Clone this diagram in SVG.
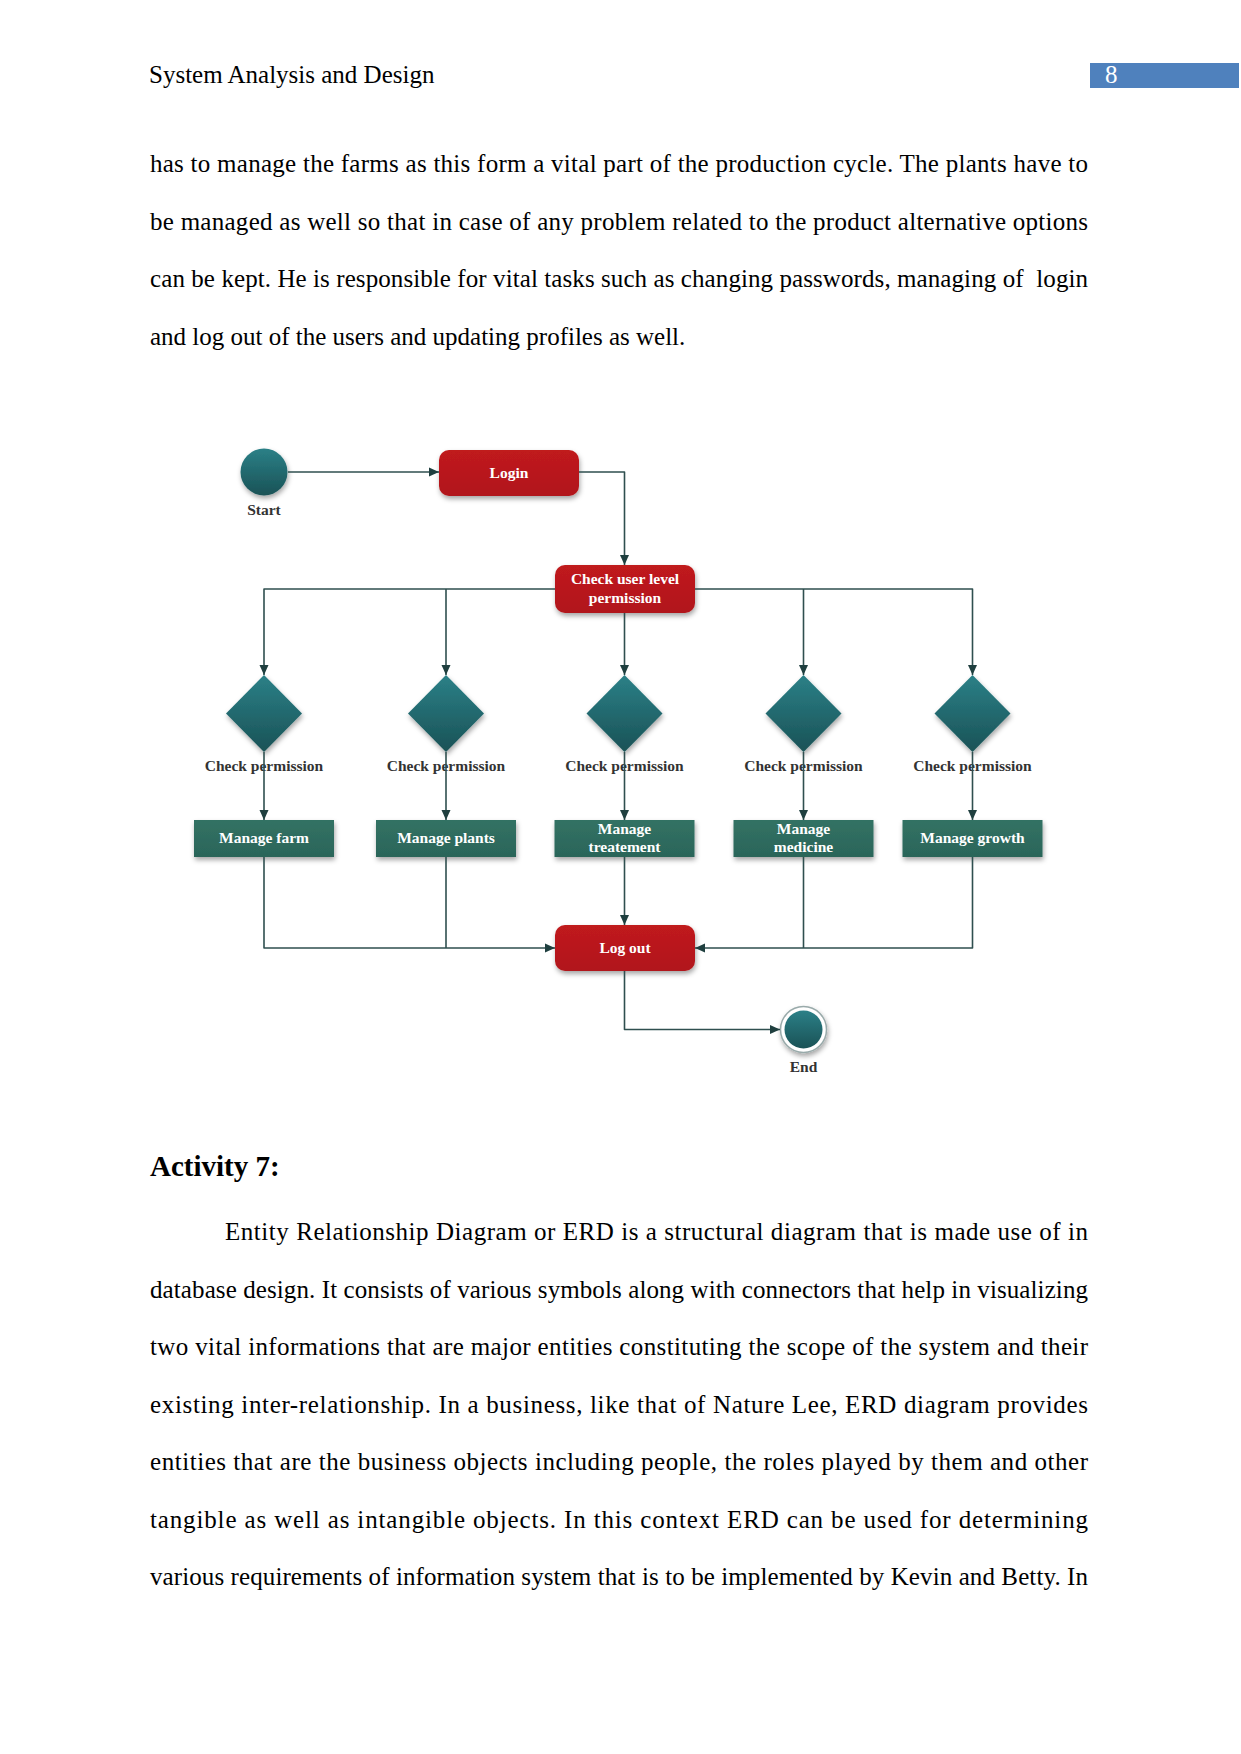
<svg xmlns="http://www.w3.org/2000/svg" width="1241" height="1754" viewBox="0 0 1241 1754">
<defs>
<style>
.body{font-family:"Liberation Serif","Times New Roman",serif;font-size:25px;fill:#000}
.lbl{font-family:"Liberation Serif","Times New Roman",serif;font-size:15.5px;font-weight:bold;fill:#333;text-anchor:middle}
.wt{font-family:"Liberation Serif","Times New Roman",serif;font-size:15.5px;font-weight:bold;fill:#fff;text-anchor:middle}
.conn{fill:none;stroke:#2f4f4f;stroke-width:1.6;stroke-linejoin:round}
.red{fill:url(#gRed);filter:url(#sh)}
.box{fill:url(#gBox);filter:url(#sh)}
.dia{fill:url(#gTeal);filter:url(#sh)}
</style>
<linearGradient id="gTeal" x1="0" y1="0" x2="0" y2="1"><stop offset="0" stop-color="#2b8087"/><stop offset="1" stop-color="#1a5256"/></linearGradient>
<linearGradient id="gRed" x1="0" y1="0" x2="0" y2="1"><stop offset="0" stop-color="#c01a1f"/><stop offset="1" stop-color="#b1161a"/></linearGradient>
<linearGradient id="gBox" x1="0" y1="0" x2="0" y2="1"><stop offset="0" stop-color="#327264"/><stop offset="1" stop-color="#2b6559"/></linearGradient>
<filter id="sh" x="-20%" y="-20%" width="140%" height="150%"><feDropShadow dx="1" dy="3" stdDeviation="2.5" flood-color="#000" flood-opacity="0.35"/></filter>
<marker id="arr" markerUnits="userSpaceOnUse" markerWidth="10" markerHeight="10" viewBox="0 0 10 10" refX="10" refY="5" orient="auto"><path d="M0,0.5 L10,5 L0,9.5 Z" fill="#1f3f3f"/></marker>
</defs>
<rect width="1241" height="1754" fill="#fff"/>

<g id="header">
<text class="body" x="149" y="83">System Analysis and Design</text>
<rect x="1090" y="63" width="149" height="25" fill="#4f81bd"/>
<text class="body" x="1105" y="83" fill="#fff" style="fill:#fff">8</text>
</g>

<g id="para1">
<text class="body" x="150" y="172" textLength="938" lengthAdjust="spacing">has to manage the farms as this form a vital part of the production cycle. The plants have to</text>
<text class="body" x="150" y="229.5" textLength="938" lengthAdjust="spacing">be managed as well so that in case of any problem related to the product alternative options</text>
<text class="body" x="150" y="287" textLength="938" lengthAdjust="spacing" xml:space="preserve">can be kept. He is responsible for vital tasks such as changing passwords, managing of  login</text>
<text class="body" x="150" y="344.5">and log out of the users and updating profiles as well.</text>
</g>

<g id="start">
<circle cx="264" cy="472" r="23.5" fill="url(#gTeal)" filter="url(#sh)"/>
<text class="lbl" x="264" y="515">Start</text>
</g>
<g id="login">
<rect class="red" x="439" y="450" width="140" height="46" rx="10"/>
<text class="wt" x="509" y="478">Login</text>
</g>
<g id="checkUser">
<rect class="red" x="555" y="565" width="140" height="48" rx="10"/>
<text class="wt" x="625" y="584">Check user level</text>
<text class="wt" x="625" y="603">permission</text>
</g>

<g id="dia1"><polygon class="dia" points="264,675 302,713.5 264,752 226,713.5"/><text class="lbl" x="264" y="771">Check permission</text></g>
<g id="dia2"><polygon class="dia" points="446,675 484,713.5 446,752 408,713.5"/><text class="lbl" x="446" y="771">Check permission</text></g>
<g id="dia3"><polygon class="dia" points="624.5,675 662.5,713.5 624.5,752 586.5,713.5"/><text class="lbl" x="624.5" y="771">Check permission</text></g>
<g id="dia4"><polygon class="dia" points="803.5,675 841.5,713.5 803.5,752 765.5,713.5"/><text class="lbl" x="803.5" y="771">Check permission</text></g>
<g id="dia5"><polygon class="dia" points="972.5,675 1010.5,713.5 972.5,752 934.5,713.5"/><text class="lbl" x="972.5" y="771">Check permission</text></g>

<g id="manageFarm"><rect class="box" x="194" y="820" width="140" height="37"/><text class="wt" x="264" y="843">Manage farm</text></g>
<g id="managePlants"><rect class="box" x="376" y="820" width="140" height="37"/><text class="wt" x="446" y="843">Manage plants</text></g>
<g id="manageTreatement"><rect class="box" x="554.5" y="820" width="140" height="37"/><text class="wt" x="624.5" y="834">Manage</text><text class="wt" x="624.5" y="852">treatement</text></g>
<g id="manageMedicine"><rect class="box" x="733.5" y="820" width="140" height="37"/><text class="wt" x="803.5" y="834">Manage</text><text class="wt" x="803.5" y="852">medicine</text></g>
<g id="manageGrowth"><rect class="box" x="902.5" y="820" width="140" height="37"/><text class="wt" x="972.5" y="843">Manage growth</text></g>

<g id="logout">
<rect class="red" x="555" y="925" width="140" height="46" rx="10"/>
<text class="wt" x="625" y="953">Log out</text>
</g>
<g id="end">
<circle cx="803.5" cy="1029.5" r="23" fill="#fff" stroke="#9aa" stroke-width="1.5" filter="url(#sh)"/>
<circle cx="803.5" cy="1029.5" r="19" fill="url(#gTeal)"/>
<text class="lbl" x="803.5" y="1072">End</text>
</g>

<g id="connectors">
<path class="conn" d="M288,472 H439" marker-end="url(#arr)"/>
<path class="conn" d="M579,472 H624.5 V565" marker-end="url(#arr)"/>
<path class="conn" d="M555,589 H264 V675" marker-end="url(#arr)"/>
<path class="conn" d="M446,589 V675" marker-end="url(#arr)"/>
<path class="conn" d="M624.5,613 V675" marker-end="url(#arr)"/>
<path class="conn" d="M695,589 H972.5 V675" marker-end="url(#arr)"/>
<path class="conn" d="M803.5,589 V675" marker-end="url(#arr)"/>
<path class="conn" d="M264,752 V820" marker-end="url(#arr)"/>
<path class="conn" d="M446,752 V820" marker-end="url(#arr)"/>
<path class="conn" d="M624.5,752 V820" marker-end="url(#arr)"/>
<path class="conn" d="M803.5,752 V820" marker-end="url(#arr)"/>
<path class="conn" d="M972.5,752 V820" marker-end="url(#arr)"/>
<path class="conn" d="M264,857 V948 H555" marker-end="url(#arr)"/>
<path class="conn" d="M446,857 V948"/>
<path class="conn" d="M624.5,857 V925" marker-end="url(#arr)"/>
<path class="conn" d="M972.5,857 V948 H695" marker-end="url(#arr)"/>
<path class="conn" d="M803.5,857 V948"/>
<path class="conn" d="M624.5,971 V1029.5 H780" marker-end="url(#arr)"/>
</g>

<g id="para2">
<text x="150" y="1176" style="font-family:'Liberation Serif','Times New Roman',serif;font-size:29px;font-weight:bold">Activity 7:</text>
<text class="body" x="225" y="1240" textLength="863" lengthAdjust="spacing">Entity Relationship Diagram or ERD is a structural diagram that is made use of in</text>
<text class="body" x="150" y="1297.5" textLength="938" lengthAdjust="spacing">database design. It consists of various symbols along with connectors that help in visualizing</text>
<text class="body" x="150" y="1355" textLength="938" lengthAdjust="spacing">two vital informations that are major entities constituting the scope of the system and their</text>
<text class="body" x="150" y="1412.5" textLength="938" lengthAdjust="spacing">existing inter-relationship. In a business, like that of Nature Lee, ERD diagram provides</text>
<text class="body" x="150" y="1470" textLength="938" lengthAdjust="spacing">entities that are the business objects including people, the roles played by them and other</text>
<text class="body" x="150" y="1527.5" textLength="938" lengthAdjust="spacing">tangible as well as intangible objects. In this context ERD can be used for determining</text>
<text class="body" x="150" y="1585" textLength="938" lengthAdjust="spacing">various requirements of information system that is to be implemented by Kevin and Betty. In</text>
</g>
</svg>
